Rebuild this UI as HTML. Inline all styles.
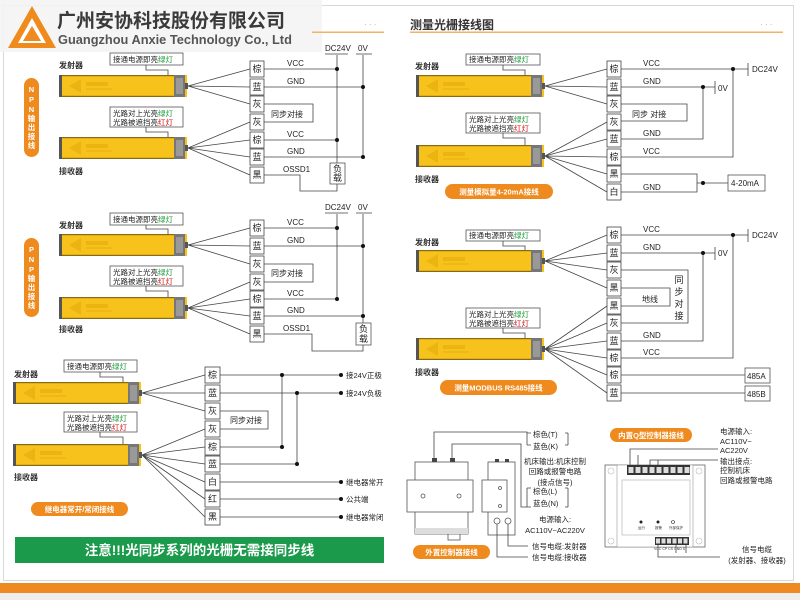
<!DOCTYPE html>
<html><head><meta charset="utf-8">
<style>
html,body{margin:0;padding:0;background:#fff;}
svg{display:block;font-family:"Liberation Sans","Noto Sans CJK SC",sans-serif;}
.t rect{fill:#fff;stroke:#444;stroke-width:0.8}
.tt{font-size:9px;fill:#222;text-anchor:middle}
.w{stroke:#444;stroke-width:0.8;fill:none}
.lb{font-size:8px;fill:#222}
.sm{font-size:7.5px;fill:#222}
.bd{font-size:8px;font-weight:bold;fill:#333}
.nb{fill:#fff;stroke:#555;stroke-width:0.8}
.pill{fill:#ef8a1e}
.pt{font-size:7.5px;font-weight:bold;fill:#fff;text-anchor:middle}
</style></head><body>
<svg width="800" height="600" viewBox="0 0 800 600" xmlns="http://www.w3.org/2000/svg">
<defs>
<g id="bar">
<rect x="0" y="0" width="128" height="22" fill="#f7c21c"/>
<rect x="0" y="0" width="3" height="22" fill="#555"/>
<rect x="3" y="0" width="112" height="1.2" fill="#8a6a10"/>
<rect x="3" y="20.8" width="112" height="1.2" fill="#8a6a10"/>
<rect x="115" y="0" width="11" height="22" fill="#777"/>
<rect x="117" y="3" width="7" height="16" fill="#999"/>
<rect x="126" y="8" width="3" height="6" fill="#555"/>
<polygon points="10,11 22,4 22,18" fill="#e8b010" opacity="0.8"/>
<rect x="27" y="7" width="22" height="4" fill="#e8b010" opacity="0.8"/>
<rect x="27" y="13" width="26" height="2" fill="#e8b010" opacity="0.6"/>
</g>
</defs>
<rect x="0" y="0" width="800" height="600" fill="#fff"/>
<rect x="3.5" y="5.5" width="790" height="575" fill="none" stroke="#d8d8d8" stroke-width="1"/>
<rect x="0" y="583" width="800" height="10" fill="#ef8a22"/>
<rect x="0" y="593" width="800" height="7" fill="#eeeeee"/>

<rect x="0" y="0" width="322" height="52" fill="#f4f4f4" opacity="0.9"/>
<polygon points="32,6 56,48 8,48" fill="#ef8a1e"/>
<polygon points="32,18 46,43 18,43" fill="#fff"/>
<polygon points="32,26 41,41 23,41" fill="#ef8a1e"/>
<text x="57" y="27" font-size="19" font-weight="bold" fill="#3a3a3a">广州安协科技股份有限公司</text>
<text x="58" y="44" font-size="12.8" font-weight="bold" fill="#555">Guangzhou Anxie Technology Co., Ltd</text>
<rect x="312" y="31.5" width="72" height="1.5" fill="#f2b26a"/>
<text x="364" y="27" font-size="8" fill="#e0a050">· · ·</text>
<text x="410" y="29" font-size="12" font-weight="bold" fill="#333">测量光栅接线图</text>
<rect x="410" y="31.5" width="373" height="1.5" fill="#f2b26a"/>
<text x="760" y="27" font-size="8" fill="#e0a050">· · ·</text>

<!-- NPN -->
<rect x="24" y="78" width="15" height="79" rx="7.5" class="pill"/>
<g class="pt" font-size="7"><text x="31.5" y="92">N</text><text x="31.5" y="102">P</text><text x="31.5" y="112">N</text><text x="31.5" y="121">输</text><text x="31.5" y="130">出</text><text x="31.5" y="139">接</text><text x="31.5" y="148">线</text></g>
<text x="59" y="68" class="bd">发射器</text>
<rect x="110" y="53" width="73" height="12" class="nb"/>
<text x="113" y="62" class="sm">接通电源即亮<tspan fill="#1a9a3a">绿灯</tspan></text>
<path d="M146 65 V70 H168 V75" class="w"/>
<use href="#bar" x="59" y="75"/>
<rect x="110" y="107" width="73" height="20" class="nb"/>
<text x="113" y="116" class="sm">光路对上光亮<tspan fill="#1a9a3a">绿灯</tspan></text>
<text x="113" y="125" class="sm">光路被遮挡亮<tspan fill="#d01010">红灯</tspan></text>
<path d="M146 127 V132 H168 V137" class="w"/>
<use href="#bar" x="59" y="137"/>
<text x="59" y="174" class="bd">接收器</text>
<path d="M188 86 L250 69 M188 86 L250 87 M188 86 L250 104 M188 148 L250 122 M188 148 L250 140 M188 148 L250 157 M188 148 L250 175" class="w"/>
<path d="M264 69 H337 M264 87 H363 M264 140 H337 M264 157 H363 M264 104 H313 V122 H264 M264 175 H300 V191 H337 V183 M337 55 V163 M363 55 V157 M325 54 H348 M356 54 H372" class="w"/>
<text x="271" y="117" class="lb">同步对接</text>
<text x="287" y="66" class="lb">VCC</text><text x="287" y="84" class="lb">GND</text>
<text x="287" y="137" class="lb">VCC</text><text x="287" y="154" class="lb">GND</text>
<text x="283" y="172" class="lb">OSSD1</text>
<text x="325" y="51" class="lb">DC24V</text><text x="358" y="51" class="lb">0V</text>
<g fill="#111"><circle cx="337" cy="69" r="2"/><circle cx="363" cy="87" r="2"/><circle cx="337" cy="140" r="2"/><circle cx="363" cy="157" r="2"/></g>
<rect x="330" y="163" width="15" height="21" class="nb"/>
<text x="337.5" y="172" class="tt" font-size="7.5">负</text><text x="337.5" y="181" class="tt" font-size="7.5">载</text>
<g class="t"><rect x="250" y="61" width="14" height="16"/><rect x="250" y="79" width="14" height="16"/><rect x="250" y="96" width="14" height="16"/><rect x="250" y="114" width="14" height="16"/><rect x="250" y="132" width="14" height="16"/><rect x="250" y="149" width="14" height="16"/><rect x="250" y="167" width="14" height="16"/></g>
<g class="tt"><text x="257" y="72">棕</text><text x="257" y="90">蓝</text><text x="257" y="107">灰</text><text x="257" y="125">灰</text><text x="257" y="143">棕</text><text x="257" y="160">蓝</text><text x="257" y="178">黑</text></g>

<!-- PNP -->
<rect x="24" y="238" width="15" height="79" rx="7.5" class="pill"/>
<g class="pt" font-size="7"><text x="31.5" y="252">P</text><text x="31.5" y="262">N</text><text x="31.5" y="272">P</text><text x="31.5" y="281">输</text><text x="31.5" y="290">出</text><text x="31.5" y="299">接</text><text x="31.5" y="308">线</text></g>
<text x="59" y="228" class="bd">发射器</text>
<rect x="110" y="213" width="73" height="12" class="nb"/>
<text x="113" y="222" class="sm">接通电源即亮<tspan fill="#1a9a3a">绿灯</tspan></text>
<path d="M146 225 V229 H168 V234" class="w"/>
<use href="#bar" x="59" y="234"/>
<rect x="110" y="266" width="73" height="20" class="nb"/>
<text x="113" y="275" class="sm">光路对上光亮<tspan fill="#1a9a3a">绿灯</tspan></text>
<text x="113" y="284" class="sm">光路被遮挡亮<tspan fill="#d01010">红灯</tspan></text>
<path d="M146 286 V291 H168 V297" class="w"/>
<use href="#bar" x="59" y="297"/>
<text x="59" y="332" class="bd">接收器</text>
<path d="M188 245 L250 228 M188 245 L250 246 M188 245 L250 264 M188 308 L250 282 M188 308 L250 299 M188 308 L250 316 M188 308 L250 334" class="w"/>
<path d="M264 228 H337 M264 246 H363 M264 299 H337 M264 316 H363 M264 264 H313 V282 H264 M264 334 H312 V351 H363 V345 M337 214 V299 M363 214 V323 M325 213 H348 M356 213 H372" class="w"/>
<text x="271" y="276" class="lb">同步对接</text>
<text x="287" y="225" class="lb">VCC</text><text x="287" y="243" class="lb">GND</text>
<text x="287" y="296" class="lb">VCC</text><text x="287" y="313" class="lb">GND</text>
<text x="283" y="331" class="lb">OSSD1</text>
<text x="325" y="210" class="lb">DC24V</text><text x="358" y="210" class="lb">0V</text>
<g fill="#111"><circle cx="337" cy="228" r="2"/><circle cx="363" cy="246" r="2"/><circle cx="337" cy="299" r="2"/><circle cx="363" cy="316" r="2"/></g>
<rect x="356" y="323" width="15" height="22" class="nb"/>
<text x="363.5" y="332" class="tt" font-size="7.5">负</text><text x="363.5" y="342" class="tt" font-size="7.5">载</text>
<g class="t"><rect x="250" y="220" width="14" height="16"/><rect x="250" y="238" width="14" height="16"/><rect x="250" y="256" width="14" height="16"/><rect x="250" y="274" width="14" height="16"/><rect x="250" y="291" width="14" height="16"/><rect x="250" y="308" width="14" height="16"/><rect x="250" y="326" width="14" height="16"/></g>
<g class="tt"><text x="257" y="231">棕</text><text x="257" y="249">蓝</text><text x="257" y="267">灰</text><text x="257" y="285">灰</text><text x="257" y="302">棕</text><text x="257" y="319">蓝</text><text x="257" y="337">黑</text></g>

<!-- Relay -->
<text x="14" y="377" class="bd">发射器</text>
<rect x="64" y="360" width="73" height="12" class="nb"/>
<text x="67" y="369" class="sm">接通电源即亮<tspan fill="#1a9a3a">绿灯</tspan></text>
<path d="M100 372 V377 H123 V382" class="w"/>
<use href="#bar" x="13" y="382"/>
<rect x="64" y="412" width="73" height="20" class="nb"/>
<text x="67" y="421" class="sm">光路对上光亮<tspan fill="#1a9a3a">绿灯</tspan></text>
<text x="67" y="430" class="sm">光路被遮挡亮<tspan fill="#d01010">红灯</tspan></text>
<path d="M100 432 V437 H123 V444" class="w"/>
<use href="#bar" x="13" y="444"/>
<text x="14" y="480" class="bd">接收器</text>
<path d="M142 393 L205 375 M142 393 L205 393 M142 393 L205 411 M142 455 L205 429 M142 455 L205 447 M142 455 L205 464 M142 455 L205 482 M142 455 L205 499 M142 455 L205 517" class="w"/>
<path d="M220 375 H340 M220 393 H340 M220 447 H282 M220 464 H297 M282 375 V447 M297 393 V464 M220 482 H340 M220 499 H340 M220 517 H340 M220 411 H268 V429 H220" class="w"/>
<text x="230" y="423" class="lb">同步对接</text>
<g fill="#111"><circle cx="282" cy="375" r="2"/><circle cx="282" cy="447" r="2"/><circle cx="297" cy="393" r="2"/><circle cx="297" cy="464" r="2"/><circle cx="341" cy="375" r="2"/><circle cx="341" cy="393" r="2"/><circle cx="341" cy="482" r="2"/><circle cx="341" cy="499" r="2"/><circle cx="341" cy="517" r="2"/></g>
<g class="sm"><text x="346" y="378">接24V正极</text><text x="346" y="396">接24V负极</text><text x="346" y="485">继电器常开</text><text x="346" y="502">公共端</text><text x="346" y="520">继电器常闭</text></g>
<g class="t"><rect x="205" y="367" width="15" height="16"/><rect x="205" y="385" width="15" height="16"/><rect x="205" y="403" width="15" height="16"/><rect x="205" y="421" width="15" height="16"/><rect x="205" y="439" width="15" height="16"/><rect x="205" y="456" width="15" height="16"/><rect x="205" y="474" width="15" height="16"/><rect x="205" y="491" width="15" height="16"/><rect x="205" y="509" width="15" height="16"/></g>
<g class="tt"><text x="212.5" y="378">棕</text><text x="212.5" y="396">蓝</text><text x="212.5" y="414">灰</text><text x="212.5" y="432">灰</text><text x="212.5" y="450">棕</text><text x="212.5" y="467">蓝</text><text x="212.5" y="485">白</text><text x="212.5" y="502">红</text><text x="212.5" y="520">黑</text></g>
<rect x="31" y="502" width="97" height="14" rx="7" class="pill"/>
<text x="79.5" y="512" class="pt">继电器常开/常闭接线</text>
<rect x="15" y="537" width="369" height="26" fill="#1a9a4a"/>
<text x="199.5" y="555" font-size="13.5" font-weight="bold" fill="#fff" text-anchor="middle">注意!!!光同步系列的光栅无需接同步线</text>

<!-- 4-20mA -->
<text x="415" y="69" class="bd">发射器</text>
<rect x="466" y="54" width="74" height="11" class="nb"/>
<text x="469" y="62" class="sm">接通电源即亮<tspan fill="#1a9a3a">绿灯</tspan></text>
<path d="M503 65 V70 H525 V75" class="w"/>
<use href="#bar" x="416" y="75"/>
<rect x="466" y="113" width="74" height="20" class="nb"/>
<text x="469" y="122" class="sm">光路对上光亮<tspan fill="#1a9a3a">绿灯</tspan></text>
<text x="469" y="131" class="sm">光路被遮挡亮<tspan fill="#d01010">红灯</tspan></text>
<path d="M503 133 V138 H525 V145" class="w"/>
<use href="#bar" x="416" y="145"/>
<text x="415" y="182" class="bd">接收器</text>
<path d="M545 86 L607 69 M545 86 L607 87 M545 86 L607 104 M545 156 L607 122 M545 156 L607 139 M545 156 L607 157 M545 156 L607 174 M545 156 L607 192" class="w"/>
<path d="M621 69 H748 M748 63 V76 M621 87 H715 M715 81 V94 M733 69 V157 H621 M703 87 V139 H621 M621 104 H687 V121 H621 M621 174 H697 V192 H621 M697 183 H728" class="w"/>
<text x="752" y="72" class="lb">DC24V</text><text x="718" y="91" class="lb">0V</text>
<text x="632" y="117" class="lb">同步 对接</text>
<g class="lb"><text x="643" y="66">VCC</text><text x="643" y="84">GND</text><text x="643" y="136">GND</text><text x="643" y="154">VCC</text><text x="643" y="190">GND</text></g>
<g fill="#111"><circle cx="733" cy="69" r="2"/><circle cx="703" cy="87" r="2"/><circle cx="703" cy="183" r="2"/></g>
<rect x="728" y="175" width="37" height="16" class="nb"/>
<text x="731" y="186" class="lb">4-20mA</text>
<g class="t"><rect x="607" y="61" width="14" height="16"/><rect x="607" y="79" width="14" height="16"/><rect x="607" y="96" width="14" height="16"/><rect x="607" y="114" width="14" height="16"/><rect x="607" y="131" width="14" height="16"/><rect x="607" y="149" width="14" height="16"/><rect x="607" y="166" width="14" height="16"/><rect x="607" y="184" width="14" height="16"/></g>
<g class="tt"><text x="614" y="72">棕</text><text x="614" y="90">蓝</text><text x="614" y="107">灰</text><text x="614" y="125">灰</text><text x="614" y="142">蓝</text><text x="614" y="160">棕</text><text x="614" y="177">黑</text><text x="614" y="195">白</text></g>
<rect x="445" y="184" width="108" height="15" rx="7.5" class="pill"/>
<text x="499" y="194.5" class="pt">测量模拟量4-20mA接线</text>

<!-- RS485 -->
<text x="415" y="245" class="bd">发射器</text>
<rect x="466" y="230" width="74" height="11" class="nb"/>
<text x="469" y="238" class="sm">接通电源即亮<tspan fill="#1a9a3a">绿灯</tspan></text>
<path d="M503 241 V246 H525 V250" class="w"/>
<use href="#bar" x="416" y="250"/>
<rect x="466" y="308" width="74" height="20" class="nb"/>
<text x="469" y="317" class="sm">光路对上光亮<tspan fill="#1a9a3a">绿灯</tspan></text>
<text x="469" y="326" class="sm">光路被遮挡亮<tspan fill="#d01010">红灯</tspan></text>
<path d="M503 328 V333 H525 V338" class="w"/>
<use href="#bar" x="416" y="338"/>
<text x="415" y="375" class="bd">接收器</text>
<path d="M545 261 L607 235 M545 261 L607 253 M545 261 L607 270 M545 261 L607 288 M545 349 L607 306 M545 349 L607 323 M545 349 L607 341 M545 349 L607 358 M545 349 L607 375 M545 349 L607 393" class="w"/>
<path d="M621 235 H748 M748 229 V242 M621 253 H715 M715 247 V260 M733 235 V358 H621 M703 253 V341 H621 M621 270 H688 V323 H621 M621 288 H670 V306 H621 M621 375 H745 M621 393 H745" class="w"/>
<text x="752" y="238" class="lb">DC24V</text><text x="718" y="256" class="lb">0V</text>
<text x="642" y="302" class="lb">地线</text>
<g class="tt" font-size="8"><text x="679" y="283">同</text><text x="679" y="295">步</text><text x="679" y="307">对</text><text x="679" y="319">接</text></g>
<g class="lb"><text x="643" y="232">VCC</text><text x="643" y="250">GND</text><text x="643" y="338">GND</text><text x="643" y="355">VCC</text></g>
<g fill="#111"><circle cx="733" cy="235" r="2"/><circle cx="703" cy="253" r="2"/></g>
<rect x="745" y="368" width="25" height="15" class="nb"/><text x="747" y="379" class="lb">485A</text>
<rect x="745" y="386" width="25" height="15" class="nb"/><text x="747" y="397" class="lb">485B</text>
<g class="t"><rect x="607" y="227" width="14" height="16"/><rect x="607" y="245" width="14" height="16"/><rect x="607" y="262" width="14" height="16"/><rect x="607" y="280" width="14" height="16"/><rect x="607" y="298" width="14" height="16"/><rect x="607" y="315" width="14" height="16"/><rect x="607" y="333" width="14" height="16"/><rect x="607" y="350" width="14" height="16"/><rect x="607" y="367" width="14" height="16"/><rect x="607" y="385" width="14" height="16"/></g>
<g class="tt"><text x="614" y="238">棕</text><text x="614" y="256">蓝</text><text x="614" y="273">灰</text><text x="614" y="291">黑</text><text x="614" y="309">黑</text><text x="614" y="326">灰</text><text x="614" y="344">蓝</text><text x="614" y="361">棕</text><text x="614" y="378">棕</text><text x="614" y="396">蓝</text></g>
<rect x="440" y="380" width="117" height="15" rx="7.5" class="pill"/>
<text x="498.5" y="390.5" class="pt">测量MODBUS  RS485接线</text>

<!-- External controller -->
<g fill="#fff" stroke="#555" stroke-width="0.8">
<rect x="415" y="462" width="53" height="72"/>
<rect x="407" y="480" width="66" height="32"/>
<rect x="448" y="534" width="12" height="6"/>
<rect x="488" y="462" width="27" height="73"/>
<rect x="482" y="480" width="25" height="32"/>
<circle cx="423" cy="496" r="2"/><circle cx="459" cy="496" r="2"/>
<circle cx="500" cy="488" r="1.5"/><circle cx="500" cy="506" r="1.5"/>
<circle cx="497" cy="521" r="3"/><circle cx="508" cy="521" r="3"/>
</g>
<rect x="415" y="528" width="53" height="6" fill="#ddd"/>
<g fill="#444"><rect x="432" y="458" width="5" height="4"/><rect x="450" y="458" width="5" height="4"/><rect x="495" y="459" width="4" height="3"/><rect x="505" y="459" width="4" height="3"/></g>
<path d="M434 458 V432 H527 V445 M452 458 V444 H521 V507 H527 M527 488 V507 M497 524 V557 H528 M508 524 V546 H528" class="w"/>
<path d="M527 433 H531 M527 445 H531 M568 433 H565 M568 445 H565 M568 433 V445 M527 488 H531 M527 507 H531 M568 488 H565 M568 507 H565 M568 488 V507" class="w"/>
<g class="sm"><text x="533" y="437">棕色(T)</text><text x="533" y="449">蓝色(K)</text>
<text x="533" y="494">棕色(L)</text><text x="533" y="506">蓝色(N)</text>
<text x="555" y="464" text-anchor="middle">机床输出:机床控制</text>
<text x="555" y="474" text-anchor="middle">回路或报警电路</text>
<text x="555" y="485" text-anchor="middle">(接点信号)</text>
<text x="555" y="522" text-anchor="middle">电源输入:</text>
<text x="555" y="533" text-anchor="middle">AC110V~AC220V</text>
<text x="532" y="549">信号电缆:发射器</text>
<text x="532" y="560">信号电缆:接收器</text></g>
<rect x="413" y="545" width="77" height="14" rx="7" class="pill"/>
<text x="451.5" y="555" class="pt">外置控制器接线</text>

<!-- Built-in Q -->
<rect x="610" y="428" width="82" height="14" rx="7" class="pill"/>
<text x="651" y="438" class="pt">内置Q型控制器接线</text>
<rect x="605" y="465" width="100" height="82" fill="#fff" stroke="#666" stroke-width="0.8"/>
<rect x="617" y="465" width="76" height="82" fill="#fff" stroke="#999" stroke-width="0.6"/>
<rect x="622" y="480" width="68" height="55" fill="#fff" stroke="#aaa" stroke-width="0.6"/>
<g fill="none" stroke="#bbb" stroke-width="0.6"><circle cx="611" cy="471" r="3"/><circle cx="699" cy="471" r="3"/><circle cx="611" cy="541" r="3"/><circle cx="699" cy="541" r="3"/></g>
<g fill="#333"><rect x="627" y="465" width="63" height="10"/><rect x="655" y="537" width="34" height="8"/></g>
<g fill="#ddd"><rect x="628.5" y="467" width="5" height="6"/><rect x="635.5" y="467" width="5" height="6"/><rect x="642.5" y="467" width="5" height="6"/><rect x="649.5" y="467" width="5" height="6"/><rect x="656.5" y="467" width="5" height="6"/><rect x="663.5" y="467" width="5" height="6"/><rect x="670.5" y="467" width="5" height="6"/><rect x="677.5" y="467" width="5" height="6"/><rect x="684.5" y="467" width="5" height="6"/>
<rect x="656" y="538.5" width="4" height="5"/><rect x="661.5" y="538.5" width="4" height="5"/><rect x="667" y="538.5" width="4" height="5"/><rect x="672.5" y="538.5" width="4" height="5"/><rect x="678" y="538.5" width="4" height="5"/><rect x="683.5" y="538.5" width="4" height="5"/></g>
<g fill="#222"><circle cx="641" cy="522" r="1.5"/><circle cx="658" cy="522" r="1.5"/></g><circle cx="673" cy="522" r="1.5" fill="none" stroke="#222" stroke-width="0.6"/>
<g font-size="3.5" fill="#333"><text x="638" y="529">运行</text><text x="655" y="529">报警</text><text x="669" y="529">外部保护</text><text x="654" y="550">VCC CP CS GND S</text></g>
<path d="M630 465 V449 H718 M638 465 V455 M650 465 V460 H718 M658 465 V460 M658 545 V557 H720 M676 545 V553 M686 545 V553" class="w"/>
<g class="sm"><text x="720" y="434">电源输入:</text><text x="720" y="444">AC110V~</text><text x="720" y="453">AC220V</text>
<text x="720" y="464">输出接点:</text><text x="720" y="473">控制机床</text><text x="720" y="483">回路或报警电路</text>
<text x="757" y="552" text-anchor="middle">信号电缆</text><text x="757" y="563" text-anchor="middle">(发射器、接收器)</text></g>
</svg>
</body></html>
